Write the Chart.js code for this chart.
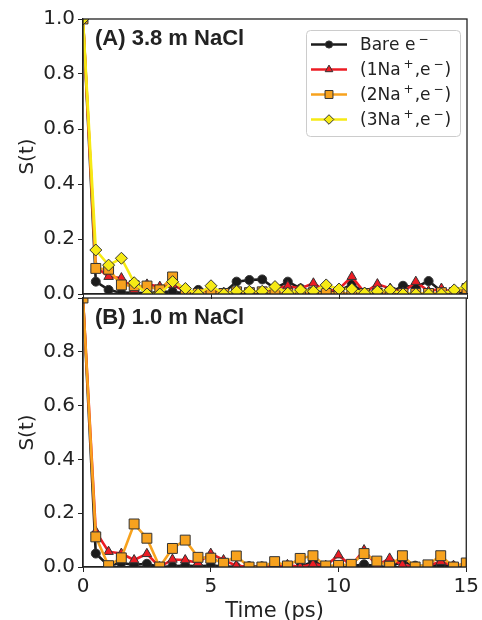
<!DOCTYPE html>
<html lang="en">
<head>
<meta charset="UTF-8">
<script src="https://cdn.jsdelivr.net/npm/chart.js"></script>
<style>
  html, body { margin: 0; padding: 0; background: #fff; overflow: hidden; width: 482px; height: 620px; }
  #wrap { position: relative; width: 482px; height: 620px; }
  #topChart { position: absolute; left: 0; top: 0; }
  #bottomChart { position: absolute; left: 0; top: 290px; }
</style>
<title>S(t) survival functions</title>
</head>
<body>
<div id="wrap">
  <canvas id="topChart" width="482" height="310"></canvas>
  <canvas id="bottomChart" width="482" height="340"></canvas>
</div>

<script>
// time axis (ps)
const time = [0, 0.5, 1, 1.5, 2, 2.5, 3, 3.5, 4, 4.5, 5, 5.5, 6, 6.5, 7, 7.5,
              8, 8.5, 9, 9.5, 10, 10.5, 11, 11.5, 12, 12.5, 13, 13.5, 14, 14.5, 15];
const xTicks = [0, 5, 10, 15];
const yTicks = [0, 0.2, 0.4, 0.6, 0.8, 1.0];

const seriesLabels = ['Bare e⁻', '(1Na⁺,e⁻)', '(2Na⁺,e⁻)', '(3Na⁺,e⁻)'];

// (A) 3.8 m NaCl
const topBare   = [1.0, 0.045, 0.015, 0.004, 0.005, 0.003, 0.008, 0.008, 0.003, 0.015, 0.01, 0.005, 0.045, 0.051, 0.053, 0.02,
                   0.045, 0.02, 0.01, 0.005, 0.01, 0.035, 0.005, 0.01, 0.005, 0.03, 0.025, 0.047, 0.01, 0.005, 0.01];
const topOneNa  = [1.0, 0.10, 0.063, 0.058, 0.015, 0.035, 0.027, 0.033, 0.01, 0.005, 0.02, 0.005, 0.005, 0.01, 0.008, 0.02,
                   0.029, 0.02, 0.039, 0.01, 0.018, 0.063, 0.005, 0.036, 0.02, 0.005, 0.045, 0.01, 0.02, 0.005, 0.02];
const topTwoNa  = [1.0, 0.093, 0.09, 0.033, 0.03, 0.029, 0.015, 0.062, 0.005, 0.002, 0.005, 0.002, 0.008, 0.005, 0.008, 0.005,
                   0.003, 0.002, 0.005, 0.002, 0.003, 0.002, 0.002, 0.002, 0.005, 0.002, 0.002, 0.002, 0.005, 0.005, 0.02];
const topThreeNa = [1.0, 0.16, 0.105, 0.13, 0.041, 0.0, 0.0, 0.045, 0.02, 0.0, 0.03, 0.0, 0.01, 0.01, 0.01, 0.027,
                   0.003, 0.015, 0.01, 0.033, 0.018, 0.018, 0.003, 0.01, 0.015, 0.0, 0.0, 0.0, 0.0, 0.015, 0.028];

// (B) 1.0 m NaCl
const botBare   = [1.0, 0.05, 0.005, 0.015, 0.008, 0.012, 0.0, 0.003, 0.005, 0.003, 0.005, 0.003, 0.0, 0.003, 0.002, 0.003,
                   0.005, 0.0, 0.02, 0.003, 0.0, 0.003, 0.01, 0.003, 0.0, 0.02, 0.005, 0.003, 0.01, 0.003, 0.005];
const botOneNa  = [1.0, 0.132, 0.057, 0.05, 0.026, 0.049, 0.0, 0.028, 0.026, 0.015, 0.05, 0.026, 0.005, 0.0, 0.0, 0.005,
                   0.008, 0.0, 0.01, 0.005, 0.044, 0.005, 0.063, 0.005, 0.032, 0.008, 0.0, 0.005, 0.02, 0.005, 0.01];
const botTwoNa  = [1.0, 0.112, 0.005, 0.034, 0.16, 0.107, 0.0, 0.069, 0.10, 0.036, 0.033, 0.014, 0.041, 0.0, 0.0, 0.02,
                   0.004, 0.032, 0.042, 0.004, 0.006, 0.01, 0.05, 0.022, 0.003, 0.042, 0.0, 0.008, 0.042, 0.0, 0.015];

const INK = '#222222';
const styles = [
  { color: '#1c1c1c', pointStyle: 'circle',   radius: 4.5, order: 4 },
  { color: '#ec1c24', pointStyle: 'triangle', radius: 5.5, order: 3 },
  { color: '#f7a21e', pointStyle: 'rect',     radius: 7,   order: 2 },
  { color: '#f6ea14', pointStyle: 'rectRot',  radius: 6,   order: 1 }
];

function makeDataset(i, values) {
  const s = styles[i];
  return {
    label: seriesLabels[i],
    data: time.map((t, k) => ({ x: t, y: values[k] })),
    borderColor: s.color,
    backgroundColor: s.color,
    borderWidth: 2.6,
    tension: 0,
    pointStyle: s.pointStyle,
    pointRadius: s.radius,
    pointHoverRadius: s.radius,
    pointBackgroundColor: s.color,
    pointBorderColor: '#333',
    pointBorderWidth: 1,
    order: s.order
  };
}

// frame around the plotting area + bold panel label
const framePlugin = {
  id: 'frame',
  afterDraw(chart, args, opts) {
    const { ctx, chartArea: a } = chart;
    ctx.save();
    ctx.strokeStyle = INK;
    ctx.lineWidth = 1.3;
    ctx.strokeRect(a.left, a.top, a.right - a.left, a.bottom - a.top);
    if (opts.text) {
      ctx.fillStyle = INK;
      ctx.font = 'bold 22px "Liberation Sans", Arial, sans-serif';
      ctx.textBaseline = 'alphabetic';
      ctx.fillText(opts.text, a.left + 12, a.top + 25.5);
    }
    ctx.restore();
  }
};

function drawMarker(ctx, style, r, x, y) {
  ctx.beginPath();
  if (style === 'circle') {
    ctx.arc(x, y, r, 0, Math.PI * 2);
  } else if (style === 'triangle') {
    for (let k = 0; k < 3; k++) {
      const ang = -Math.PI / 2 + k * 2 * Math.PI / 3;
      const px = x + Math.cos(ang) * r, py = y + Math.sin(ang) * r;
      k === 0 ? ctx.moveTo(px, py) : ctx.lineTo(px, py);
    }
    ctx.closePath();
  } else if (style === 'rect') {
    const h = r * Math.SQRT1_2;
    ctx.rect(x - h, y - h, 2 * h, 2 * h);
  } else {
    ctx.moveTo(x - r, y); ctx.lineTo(x, y - r); ctx.lineTo(x + r, y); ctx.lineTo(x, y + r);
    ctx.closePath();
  }
  ctx.fill();
  ctx.stroke();
}

// draws text, rendering ⁺ / ⁻ as raised small glyphs
function drawRichText(ctx, text, x, y) {
  const base = '17px "DejaVu Sans", sans-serif';
  const sup = '12px "DejaVu Sans", sans-serif';
  for (const ch of text) {
    if (ch === '⁺' || ch === '⁻') {
      ctx.font = sup;
      x += 3;
      const g = ch === '⁺' ? '+' : '−';
      ctx.fillText(g, x, y - 6);
      x += ctx.measureText(g).width + 1;
    } else {
      ctx.font = base;
      ctx.fillText(ch, x, y);
      x += ctx.measureText(ch).width;
    }
  }
}

const legendPlugin = {
  id: 'boxLegend',
  afterDraw(chart, args, opts) {
    if (!opts.show) return;
    const { ctx, chartArea: a } = chart;
    const w = 154, h = 106;
    const bx = a.right - 7 - w, by = a.top + 11;
    ctx.save();
    ctx.fillStyle = 'rgba(255,255,255,0.85)';
    ctx.strokeStyle = '#cccccc';
    ctx.lineWidth = 1;
    ctx.beginPath();
    ctx.roundRect(bx + 0.5, by + 0.5, w, h, 4);
    ctx.fill();
    ctx.stroke();
    const items = chart.data.datasets;
    items.forEach((ds, i) => {
      const s = styles[i];
      const cy = by + 14.5 + i * 25;
      ctx.strokeStyle = s.color;
      ctx.lineWidth = 2.6;
      ctx.beginPath();
      ctx.moveTo(bx + 5, cy);
      ctx.lineTo(bx + 41, cy);
      ctx.stroke();
      ctx.fillStyle = s.color;
      ctx.strokeStyle = '#333';
      ctx.lineWidth = 1;
      drawMarker(ctx, s.pointStyle, s.radius * 0.8, bx + 23, cy);
      ctx.fillStyle = INK;
      ctx.textBaseline = 'middle';
      drawRichText(ctx, ds.label, bx + 54, cy + 1);
    });
    ctx.restore();
  }
};

function makeOptions(panel) {
  const bottom = panel === 'bottom';
  return {
    responsive: false,
    animation: false,
    layout: { padding: { top: bottom ? 1 : 19, right: 15, bottom: 0, left: 0 } },
    plugins: {
      legend: { display: false },
      tooltip: { enabled: false },
      frame: { text: bottom ? '(B) 1.0 m NaCl' : '(A) 3.8 m NaCl' },
      boxLegend: { show: !bottom }
    },
    scales: {
      x: {
        type: 'linear',
        min: 0,
        max: 15,
        afterBuildTicks: s => { s.ticks = xTicks.map(v => ({ value: v })); },
        afterFit: s => { s.height = bottom ? 63 : 16; },
        grid: { display: true, drawOnChartArea: false, drawTicks: true, tickLength: 5, color: INK },
        border: { display: true, color: INK, width: 1.3 },
        ticks: {
          display: bottom,
          color: INK,
          padding: 3,
          font: { family: '"DejaVu Sans", sans-serif', size: 20 },
          callback: v => String(v)
        },
        title: {
          display: bottom,
          text: 'Time (ps)',
          color: INK,
          font: { family: '"DejaVu Sans", sans-serif', size: 21 },
          padding: { top: 0, bottom: 6 }
        }
      },
      y: {
        min: 0,
        max: 1,
        afterBuildTicks: s => { s.ticks = yTicks.map(v => ({ value: v })); },
        afterFit: s => {
          s.width = 83;
          // the lower panel's 1.0 label is blank, so no room is kept above it
          if (bottom) s.paddingTop = 0;
        },
        grid: { display: true, drawOnChartArea: false, drawTicks: true, tickLength: 5, color: INK },
        border: { display: true, color: INK, width: 1.3 },
        ticks: {
          color: INK,
          padding: 3,
          font: { family: '"DejaVu Sans", sans-serif', size: 20 },
          callback: v => (bottom && v >= 1) ? '' : v.toFixed(1)
        },
        title: {
          display: true,
          text: 'S(t)',
          color: INK,
          font: { family: '"DejaVu Sans", sans-serif', size: 20 },
          padding: { top: 16, bottom: 0 }
        }
      }
    }
  };
}

new Chart(document.getElementById('topChart'), {
  type: 'line',
  data: { datasets: [makeDataset(0, topBare), makeDataset(1, topOneNa), makeDataset(2, topTwoNa), makeDataset(3, topThreeNa)] },
  options: makeOptions('top'),
  plugins: [framePlugin, legendPlugin]
});

new Chart(document.getElementById('bottomChart'), {
  type: 'line',
  data: { datasets: [makeDataset(0, botBare), makeDataset(1, botOneNa), makeDataset(2, botTwoNa)] },
  options: makeOptions('bottom'),
  plugins: [framePlugin, legendPlugin]
});
</script>
</body>
</html>
